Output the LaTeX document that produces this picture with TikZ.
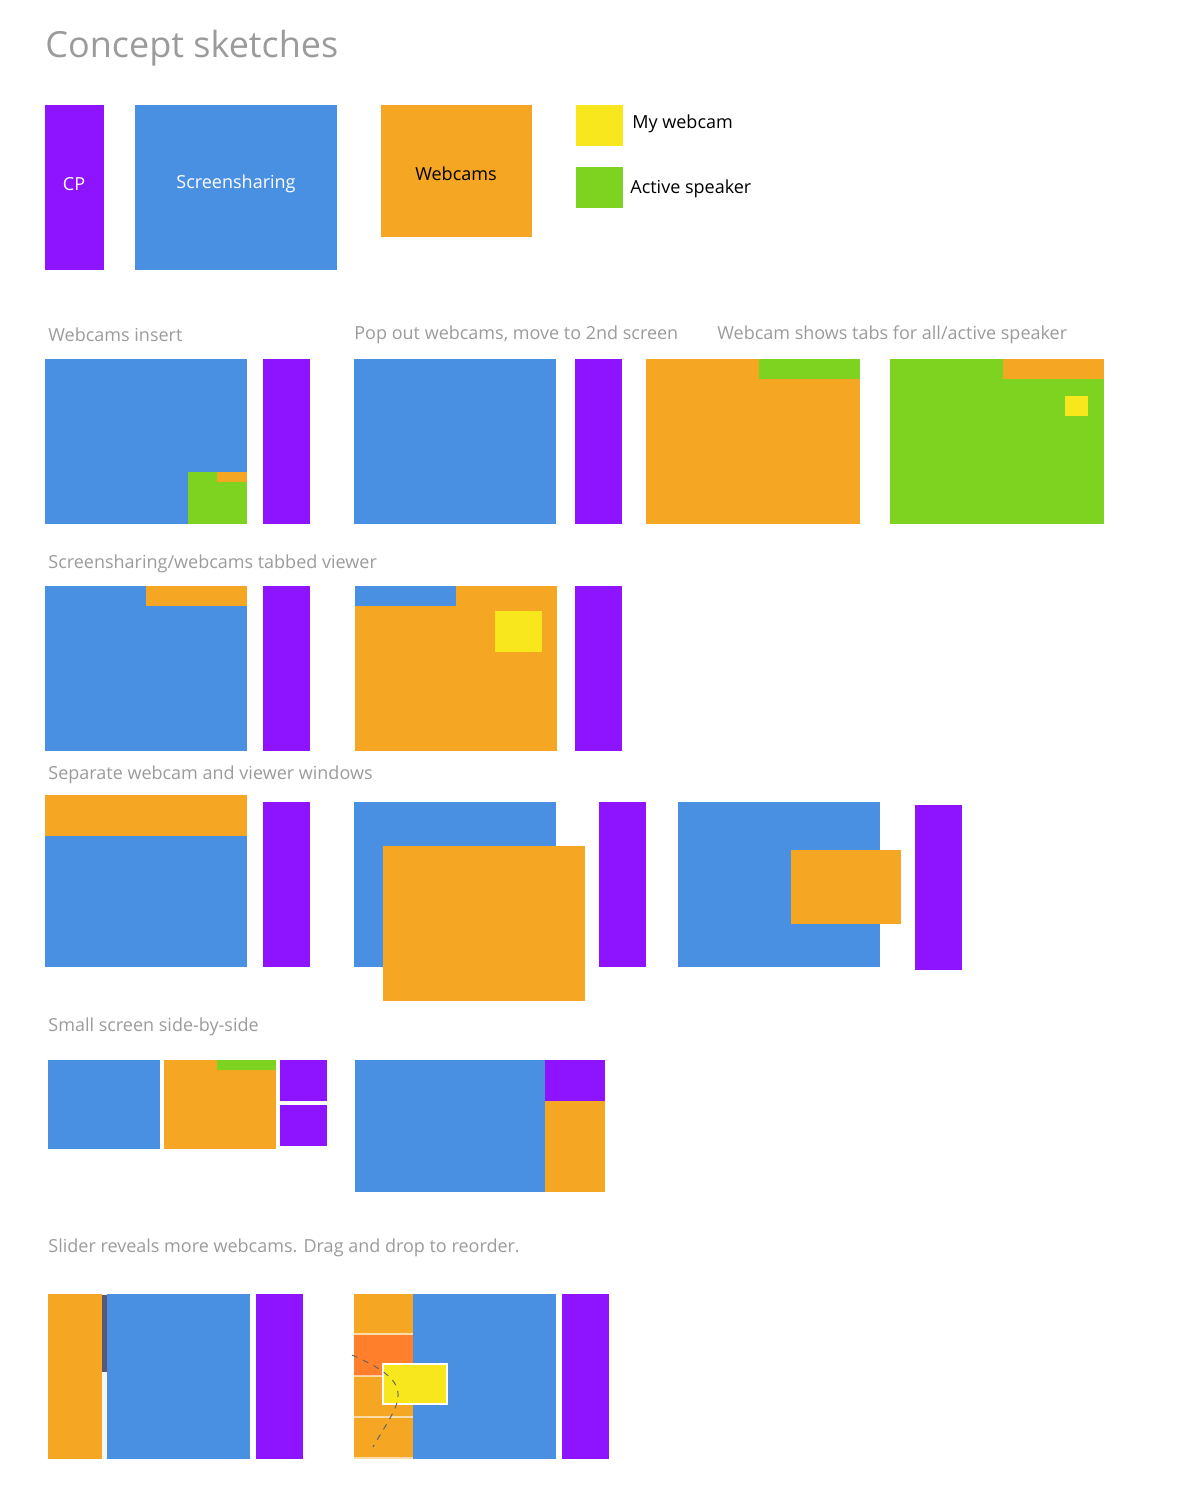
\documentclass[tikz,border=0pt]{standalone}
\usepackage{fontspec}
\setmainfont{Open Sans}
\definecolor{scrblue}{HTML}{4A90E2}
\definecolor{cppurple}{HTML}{8E14FF}
\definecolor{camorange}{HTML}{F5A623}
\definecolor{myyellow}{HTML}{F8E71C}
\definecolor{spkgreen}{HTML}{7ED321}
\definecolor{dragorange}{HTML}{FF7F2A}
\definecolor{labelgray}{HTML}{9B9B9B}
\tikzset{
  sketchlabel/.style={anchor=west, text=labelgray, font=\fontsize{9}{11}\selectfont, inner sep=0pt},
  boxlabel/.style={font=\fontsize{9}{11}\selectfont, inner sep=0pt},
}
\begin{document}
\begin{tikzpicture}[x=0.5pt,y=-0.5pt]
        \useasboundingbox (0,0) rectangle (1186,1506);
        \node[anchor=west, text=labelgray, font=\fontsize{18}{20}\selectfont, inner sep=0pt] (title) at (45,48) {Concept sketches};
        % legend
        \fill[cppurple] (45,105) rectangle (104,270);
        \node[boxlabel, text=white] (cp) at (74,184) {CP};
        \fill[scrblue] (135,105) rectangle (337,270);
        \node[boxlabel, text=white] (scr) at (236,184) {Screensharing};
        \fill[camorange] (381,105) rectangle (532,237);
        \node[boxlabel] (cams) at (456,174) {Webcams};
        \fill[myyellow] (576,105) rectangle (623,146);
        \node[boxlabel, anchor=west] (mine) at (632,124) {My webcam};
        \fill[spkgreen] (576,167) rectangle (623,208);
        \node[boxlabel, anchor=west] (spk) at (630,189) {Active speaker};
        % row 1
        \node[sketchlabel] (l1) at (48,335) {Webcams insert};
        \node[sketchlabel] (l2) at (354,335) {Pop out webcams, move to 2nd screen};
        \node[sketchlabel] (l3) at (717,335) {Webcam shows tabs for all/active speaker};
        \fill[scrblue] (45,359) rectangle (247,524);
        \fill[spkgreen] (188,472) rectangle (247,524);
        \fill[camorange] (217,472) rectangle (247,482);
        \fill[cppurple] (263,359) rectangle (310,524);
        \fill[scrblue] (354,359) rectangle (556,524);
        \fill[cppurple] (575,359) rectangle (622,524);
        \fill[camorange] (646,359) rectangle (860,524);
        \fill[spkgreen] (759,359) rectangle (860,379);
        \fill[spkgreen] (890,359) rectangle (1104,524);
        \fill[camorange] (1003,359) rectangle (1104,379);
        \fill[myyellow] (1065,396) rectangle (1088,416);
        % row 2
        \node[sketchlabel] (l4) at (48,564) {Screensharing/webcams tabbed viewer};
        \fill[scrblue] (45,586) rectangle (247,751);
        \fill[camorange] (146,586) rectangle (247,606);
        \fill[cppurple] (263,586) rectangle (310,751);
        \fill[camorange] (355,586) rectangle (557,751);
        \fill[scrblue] (355,586) rectangle (456,606);
        \fill[myyellow] (495,611) rectangle (542,652);
        \fill[cppurple] (575,586) rectangle (622,751);
        % row 3
        \node[sketchlabel] (l5) at (48,775) {Separate webcam and viewer windows};
        \fill[camorange] (45,795) rectangle (247,836);
        \fill[scrblue] (45,836) rectangle (247,967);
        \fill[cppurple] (263,802) rectangle (310,967);
        \fill[scrblue] (354,802) rectangle (556,967);
        \fill[camorange] (383,846) rectangle (585,1001);
        \fill[cppurple] (599,802) rectangle (646,967);
        \fill[scrblue] (678,802) rectangle (880,967);
        \fill[camorange] (791,850) rectangle (901,924);
        \fill[cppurple] (915,805) rectangle (962,970);
        % row 4
        \node[sketchlabel] (l6) at (48,1027) {Small screen side-by-side};
        \fill[scrblue] (48,1060) rectangle (160,1149);
        \fill[camorange] (164,1060) rectangle (276,1149);
        \fill[spkgreen] (217,1060) rectangle (276,1070);
        \fill[cppurple] (280,1060) rectangle (327,1101);
        \fill[cppurple] (280,1105) rectangle (327,1146);
        \fill[scrblue] (355,1060) rectangle (545,1192);
        \fill[cppurple] (545,1060) rectangle (605,1101);
        \fill[camorange] (545,1101) rectangle (605,1192);
        % row 5
        \node[sketchlabel] (l7) at (48,1248) {Slider reveals more webcams. Drag and drop to reorder.};
        \fill[camorange] (48,1294) rectangle (102,1459);
        \fill[black!4] (102,1294) rectangle (107,1459);
        \fill[gray!40!blue!30!black!70] (102,1295) rectangle (107,1372);
        \fill[scrblue] (107,1294) rectangle (250,1459);
        \fill[cppurple] (256,1294) rectangle (303,1459);
        \fill[camorange] (354,1294) rectangle (413,1459);
        \fill[dragorange] (354,1335) rectangle (413,1376);
        \foreach \y in {1334,1376,1417,1458}
          \draw[white, opacity=0.6, line width=0.6pt] (354,\y) -- (413,\y);
        \fill[scrblue] (413,1294) rectangle (556,1459);
        \fill[cppurple] (562,1294) rectangle (609,1459);
        \filldraw[myyellow, draw=white, line width=0.6pt] (383,1364) rectangle (447,1404);
        \draw[dashed, black!60, line width=0.5pt] (352,1355) .. controls (420,1385) and (400,1400) .. (373,1447);
\end{tikzpicture}
\end{document}
